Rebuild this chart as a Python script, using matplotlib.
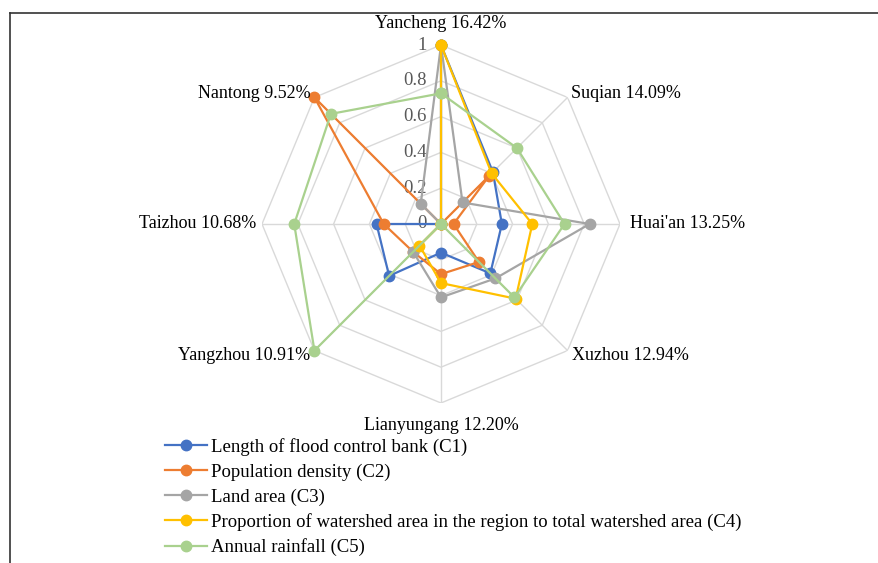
import numpy as np
import matplotlib
matplotlib.use('Agg')
import matplotlib.pyplot as plt
from matplotlib.lines import Line2D

cities = ["Yancheng", "Suqian", "Huai'an", "Xuzhou", "Lianyungang", "Yangzhou", "Taizhou", "Nantong"]
weights = ["16.42%", "14.09%", "13.25%", "12.94%", "12.20%", "10.91%", "10.68%", "9.52%"]
c1 = [1.00, 0.41, 0.34, 0.39, 0.16, 0.41, 0.36, 0.00]
c2 = [0.00, 0.38, 0.07, 0.30, 0.28, 0.22, 0.32, 1.00]
c3 = [1.00, 0.17, 0.83, 0.43, 0.41, 0.22, 0.00, 0.16]
c4 = [1.00, 0.40, 0.51, 0.59, 0.33, 0.17, 0.00, 0.00]
c5 = [0.73, 0.60, 0.69, 0.58, 0.00, 1.00, 0.82, 0.87]
series_names = ["Length of flood control bank (C1)",
                "Population density (C2)",
                "Land area (C3)",
                "Proportion of watershed area in the region to total watershed area (C4)",
                "Annual rainfall (C5)"]
ticks = [0, 0.2, 0.4, 0.6, 0.8, 1.0]
tick_labels = ["0", "0.2", "0.4", "0.6", "0.8", "1"]

colors = ["#4472C4", "#ED7D31", "#A5A5A5", "#FFC000", "#A9D18E"]
series = [c1, c2, c3, c4, c5]

plt.rcParams['font.family'] = ['Liberation Serif', 'DejaVu Serif']

W, H = 879, 563
fig = plt.figure(figsize=(W / 100, H / 100), dpi=100)
cx, cy, R = 441, 224, 179
ax = fig.add_axes([(cx - R) / W, (H - cy - R) / H, 2 * R / W, 2 * R / H], projection='polar')
ax.set_theta_zero_location('N')
ax.set_theta_direction(-1)
ax.set_ylim(0, 1)
ax.grid(False)
ax.spines['polar'].set_visible(False)
ax.set_xticks([])
ax.set_yticks([])
ax.patch.set_alpha(0)

n = len(cities)
theta = np.arange(n) * 2 * np.pi / n
theta_closed = np.append(theta, theta[0])

# polygon grid
for t in ticks[1:]:
    ax.plot(theta_closed, [t] * (n + 1), color="#d9d9d9", lw=1.0, zorder=1)
for th in theta:
    ax.plot([th, th], [0, 1], color="#d9d9d9", lw=1.0, zorder=1)

# tick labels
for t, lab in zip(ticks, tick_labels):
    ax.annotate(lab, xy=(0, t), xytext=(-14, 0), textcoords='offset pixels',
                ha='right', va='center', fontsize=13.5, color="#595959", zorder=2)

# series
for vals, col, name in zip(series, colors, series_names):
    v = np.append(vals, vals[0])
    ax.plot(theta_closed, v, color=col, lw=1.6, marker='o', markersize=7.5,
            label=name, zorder=3, clip_on=False)

# category labels
label_pos = [
    (1.12, 'center', 'center'),
    (1.03, 'left', 'center'),
    (1.056, 'left', 'center'),
    (1.035, 'left', 'center'),
    (1.125, 'center', 'center'),
    (1.035, 'right', 'center'),
    (1.034, 'right', 'center'),
    (1.03, 'right', 'center'),
]
for th, city, w, (r, ha, va) in zip(theta, cities, weights, label_pos):
    ax.text(th, r, f"{city} {w}", ha=ha, va=va, fontsize=13, color="black", clip_on=False)

leg = fig.legend(loc='upper left', bbox_to_anchor=(165 / W, 1 - 438 / H), frameon=False,
                 fontsize=13.5, handlelength=2.25, handletextpad=0.2, labelspacing=0.4,
                 borderaxespad=0, borderpad=0)

# frame lines (top and left)
fig.add_artist(Line2D([10 / W, 1.0], [1 - 13 / H, 1 - 13 / H], color="#333333", lw=1.2,
                      transform=fig.transFigure))
fig.add_artist(Line2D([10 / W, 10 / W], [1 - 13 / H, 0], color="#333333", lw=1.2,
                      transform=fig.transFigure))

fig.savefig("out.png", dpi=100)
